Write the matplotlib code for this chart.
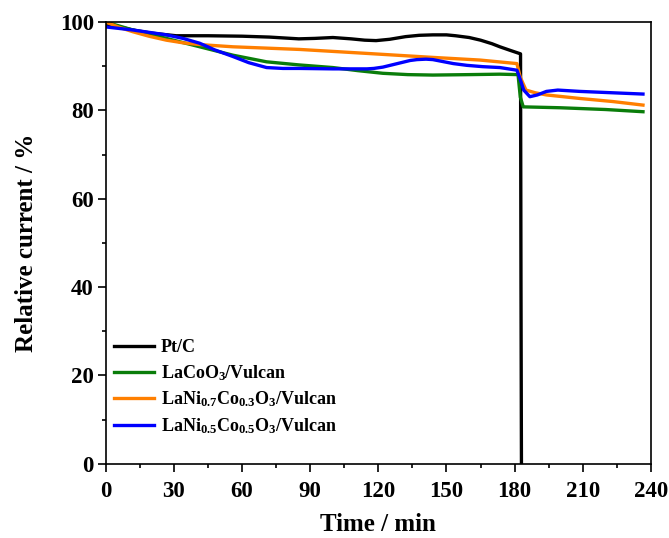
import numpy as np
import matplotlib
matplotlib.use("Agg")
import matplotlib.pyplot as plt
from matplotlib.ticker import MultipleLocator

# values (time in min, relative current in %)
t_pt = [0, 6, 12, 20, 31, 45, 60, 72, 85, 92, 100, 108, 114, 119, 125, 132, 138, 144, 150, 154,
        160, 165, 170, 173.5, 178, 182.6, 182.8, 183.0]
i_pt = [99.5, 98.9, 98.2, 97.5, 96.9, 96.9, 96.8, 96.6, 96.2, 96.3, 96.5, 96.2, 95.9, 95.8, 96.1,
        96.7, 97.0, 97.1, 97.1, 96.9, 96.5, 95.9, 95.1, 94.4, 93.6, 92.8, 40.0, 0.0]

t_lco = [0, 12, 26.7, 41.4, 56, 70.8, 85, 100, 111, 122, 133, 144, 160, 173.5, 181.5, 182.5,
         183.8, 200, 220, 236.5]
i_lco = [100, 98.2, 96.3, 94.4, 92.5, 91.0, 90.3, 89.7, 89.0, 88.4, 88.1, 88.0, 88.1, 88.2, 88.1,
         83.0, 80.8, 80.6, 80.2, 79.7]

t_ln73 = [0, 6, 12, 19, 26.7, 34, 41.4, 56, 85.4, 115, 144, 164.7, 181, 182.5, 185, 189, 194,
          208.7, 223.3, 236.5]
i_ln73 = [100, 98.8, 97.8, 96.8, 95.9, 95.3, 94.9, 94.4, 93.8, 92.9, 92.0, 91.4, 90.6, 87.5, 84.6,
          84.0, 83.5, 82.7, 82.0, 81.2]

t_ln55 = [0, 12, 26.7, 34, 41.4, 48, 56, 63, 70.8, 78, 85.4, 100, 115, 118, 122, 126, 130, 134,
          137, 141, 144, 148, 153, 159, 166, 173.5, 181, 182.5, 184, 186.7, 190, 194, 199, 208.7,
          236.5]
i_ln55 = [98.9, 98.2, 97.1, 96.3, 95.2, 93.7, 92.2, 90.8, 89.7, 89.5, 89.5, 89.4, 89.4, 89.5, 89.8,
          90.3, 90.8, 91.3, 91.5, 91.6, 91.5, 91.1, 90.6, 90.2, 89.9, 89.7, 89.1, 87.0, 84.6, 83.1,
          83.5, 84.3, 84.6, 84.3, 83.7]

labels = ["Pt/C", "LaCoO$_3$/Vulcan",
          "LaNi$_{0.7}$Co$_{0.3}$O$_3$/Vulcan", "LaNi$_{0.5}$Co$_{0.5}$O$_3$/Vulcan"]
colors = ["black", "#0a7d0a", "#ff7f00", "#0000ff"]

plt.rcParams["font.family"] = ["Liberation Serif", "DejaVu Serif"]
plt.rcParams["font.weight"] = "bold"
plt.rcParams["mathtext.fontset"] = "custom"
plt.rcParams["mathtext.rm"] = "Liberation Serif:bold"
plt.rcParams["mathtext.it"] = "Liberation Serif:bold"
plt.rcParams["mathtext.bf"] = "Liberation Serif:bold"

fig = plt.figure(figsize=(6.69, 5.38), dpi=100)
ax = fig.add_axes([0.158, 0.138, 0.815, 0.821])

series = [(t_pt, i_pt), (t_lco, i_lco), (t_ln73, i_ln73), (t_ln55, i_ln55)]
for (t, y), lab, c in zip(series, labels, colors):
    ax.plot(t, y, color=c, lw=2.4, label=lab, solid_joinstyle="round")

ax.set_xlim(0, 240)
ax.set_ylim(0, 100)
ax.xaxis.set_major_locator(MultipleLocator(30))
ax.xaxis.set_minor_locator(MultipleLocator(15))
ax.yaxis.set_major_locator(MultipleLocator(20))
ax.yaxis.set_minor_locator(MultipleLocator(10))
ax.tick_params(which="both", direction="out", width=1.2)
ax.tick_params(which="major", length=5.5, labelsize=16.5)
ax.tick_params(which="minor", length=3)
ax.tick_params(axis="x", which="major", pad=7)
ax.tick_params(axis="y", which="major", pad=3)
for s in ax.spines.values():
    s.set_linewidth(1.2)

ax.set_xlabel("Time / min", fontsize=18, fontweight="bold", labelpad=8)
ax.set_ylabel("Relative current / %", fontsize=18, fontweight="bold", labelpad=16)

ax.legend(loc="lower left", bbox_to_anchor=(0.0, 0.045), frameon=False, fontsize=13,
          handlelength=2.2, handletextpad=0.4, labelspacing=0.38, borderaxespad=0.05)

fig.savefig("out.png", dpi=100)
